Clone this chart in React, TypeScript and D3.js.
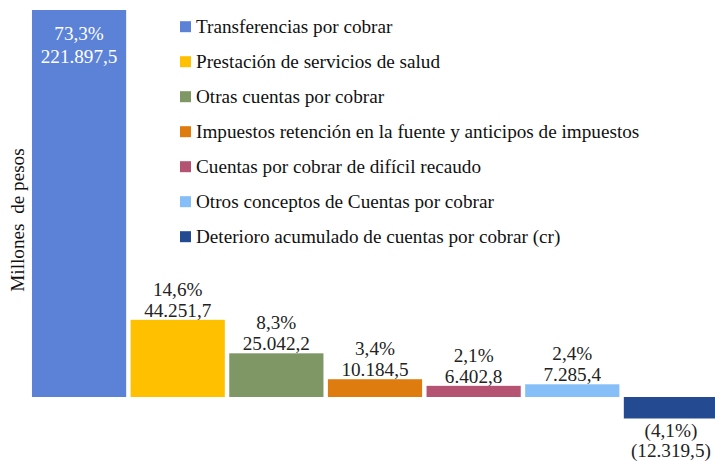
import React from 'react';
import * as d3 from 'd3';

const categories = [
  'Transferencias por cobrar',
  'Prestación de servicios de salud',
  'Otras cuentas por cobrar',
  'Impuestos retención en la fuente y anticipos de impuestos',
  'Cuentas por cobrar de difícil recaudo',
  'Otros conceptos de Cuentas por cobrar',
  'Deterioro acumulado de cuentas por cobrar (cr)',
];
const values = [221897.5, 44251.7, 25042.2, 10184.5, 6402.8, 7285.4, -12319.5];
const pctLabels = ['73,3%', '14,6%', '8,3%', '3,4%', '2,1%', '2,4%', '(4,1%)'];
const valueLabels = ['221.897,5', '44.251,7', '25.042,2', '10.184,5', '6.402,8', '7.285,4', '(12.319,5)'];
const colors = ['#5B82D7', '#FFC000', '#7E9764', '#DF7C10', '#B55373', '#86BEF8', '#244A91'];

const width = 715;
const height = 461;
const font = "'Liberation Serif', 'Times New Roman', serif";
const fontSize = 19.2;

const App = () => {
  const x = d3.scaleBand<string>()
    .domain(categories)
    .range([30, 720])
    .paddingInner(0.045)
    .paddingOuter(0.02);

  const y = d3.scaleLinear()
    .domain([0, d3.max(values) as number])
    .range([397, 10]);

  const legendY = d3.scalePoint<string>()
    .domain(categories)
    .range([26.7, 236.7]);

  return (
    <svg
      width={width}
      height={height}
      style={{ position: 'absolute', left: 0, top: 0, background: '#fff', fontFamily: font, fontSize: fontSize }}
    >
      {categories.map((c, i) => {
        const v = values[i];
        const x0 = x(c) as number;
        const top = y(Math.max(0, v));
        const bottom = y(Math.min(0, v));
        const cx = x0 + x.bandwidth() / 2;
        let l1: number, l2: number, fill = '#222';
        if (i === 0) {
          l1 = top + 29.5;
          l2 = top + 53;
          fill = '#fff';
        } else if (v < 0) {
          l1 = bottom + 18.5;
          l2 = bottom + 38.5;
        } else {
          l1 = top - 24;
          l2 = top - 3;
        }
        return (
          <g key={c}>
            <rect x={x0} y={top} width={x.bandwidth()} height={bottom - top} fill={colors[i]} />
            <text x={cx} y={l1} textAnchor="middle" fill={fill}>{pctLabels[i]}</text>
            <text x={cx} y={l2} textAnchor="middle" fill={fill}>{valueLabels[i]}</text>
          </g>
        );
      })}

      {categories.map((c, i) => {
        const cy = legendY(c) as number;
        return (
          <g key={'lg' + c}>
            <rect x={180} y={cy - 5.5} width={11} height={11} fill={colors[i]} />
            <text x={196} y={cy + 6.3} fill="#111">{c}</text>
          </g>
        );
      })}

      <text
        transform="translate(24,220) rotate(-90)"
        textAnchor="middle"
        fill="#111"
        style={{ whiteSpace: 'pre' }}
      >
        {'Millones  de pesos'}
      </text>
    </svg>
  );
};

export default App;
